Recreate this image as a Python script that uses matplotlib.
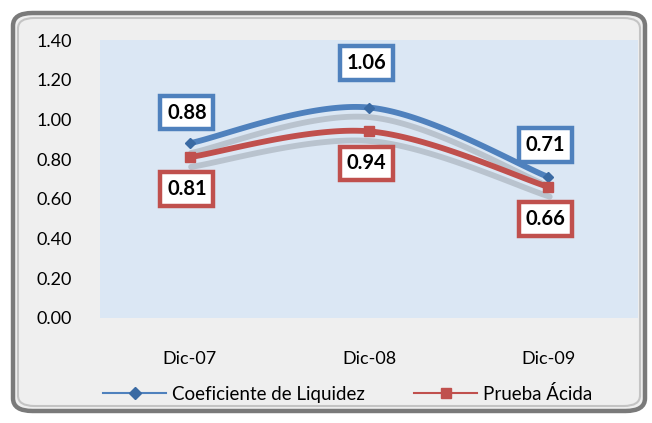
import matplotlib.pyplot as plt
import matplotlib.patheffects as pe
from matplotlib.patches import FancyBboxPatch, Rectangle
import numpy as np

periods = ['Dic-07', 'Dic-08', 'Dic-09']
liquidez = [0.88, 1.06, 0.71]
acida = [0.81, 0.94, 0.66]
yticks = [0.0, 0.2, 0.4, 0.6, 0.8, 1.0, 1.2, 1.4]

blue = '#4f81bd'
red = '#c0504d'

plt.rcParams['font.family'] = ['Lato', 'DejaVu Sans']


def smooth(x, y, n=60):
    # Catmull-Rom curve through the points (like Excel's smoothed line)
    x = np.asarray(x, float)
    y = np.asarray(y, float)
    px = np.concatenate([[x[0]], x, [x[-1]]])
    py = np.concatenate([[y[0]], y, [y[-1]]])
    xs, ys = [], []
    for i in range(1, len(px) - 2):
        t = np.linspace(0, 1, n)
        p0, p1, p2, p3 = [np.array([px[j], py[j]]) for j in range(i - 1, i + 3)]
        c1 = p1 + (p2 - p0) / 6
        c2 = p2 - (p3 - p1) / 6
        b = ((1 - t) ** 3)[:, None] * p1 + (3 * (1 - t) ** 2 * t)[:, None] * c1 \
            + (3 * (1 - t) * t ** 2)[:, None] * c2 + (t ** 3)[:, None] * p2
        xs.append(b[:, 0])
        ys.append(b[:, 1])
    return np.concatenate(xs), np.concatenate(ys)


fig = plt.figure(figsize=(6.52, 4.23), dpi=100)
fig.patch.set_facecolor('white')

# outer rounded frame
frame = FancyBboxPatch((13 / 652, 12 / 423), 632 / 652, 398 / 423,
                       boxstyle='round,pad=0,rounding_size=0.03',
                       transform=fig.transFigure, facecolor='#efefef',
                       edgecolor='#7a7a7a', linewidth=3.2, zorder=-2)
fig.patches.append(frame)
inner = FancyBboxPatch((18 / 652, 17 / 423), 622 / 652, 388 / 423,
                       boxstyle='round,pad=0,rounding_size=0.025',
                       transform=fig.transFigure, facecolor='none',
                       edgecolor='#c4c4c4', linewidth=1.5, zorder=-1)
fig.patches.append(inner)

ax = fig.add_axes([100 / 652, 1 - 318 / 423, 538 / 652, 278 / 423])
ax.set_facecolor('none')
ax.add_patch(Rectangle((0, -0.01), 1, 1.02, transform=ax.transAxes, facecolor='#dbe7f4',
                       edgecolor='none', zorder=0,
                       path_effects=[pe.SimplePatchShadow(offset=(3, -3), alpha=0.25),
                                     pe.Normal()]))

x = np.arange(len(periods))
shadow = [pe.SimpleLineShadow(offset=(1, -7), alpha=0.18, shadow_color='#222222'),
          pe.Normal()]

sx, sy = smooth(x, liquidez)
ax.plot(sx, sy, color=blue, lw=4.2, zorder=3, path_effects=shadow,
        solid_capstyle='round')
ax.plot(x, liquidez, ls='none', marker='D', ms=5, color='#3a6aa3', zorder=4)
sx, sy = smooth(x, acida)
ax.plot(sx, sy, color=red, lw=4.2, zorder=3, path_effects=shadow,
        solid_capstyle='round')
ax.plot(x, acida, ls='none', marker='s', ms=7, color=red, zorder=4)

# legend proxies
ax.plot([], [], color=blue, lw=1.5, marker='D', ms=6, mfc='#3a6aa3', mec='#3a6aa3',
        label='Coeficiente de Liquidez')
ax.plot([], [], color=red, lw=1.5, marker='s', ms=7, label='Prueba Ácida')

up_off = [22, 32, 23]
for i, v in enumerate(liquidez):
    ax.annotate(f'{v:.2f}', (x[i], v), xytext=(-2, up_off[i]), textcoords='offset points',
                ha='center', va='center', fontsize=14.5, fontweight='bold', zorder=6,
                bbox=dict(boxstyle='square,pad=0.33', fc='white', ec=blue, lw=3.2))
for i, v in enumerate(acida):
    ax.annotate(f'{v:.2f}', (x[i], v), xytext=(-2, -23), textcoords='offset points',
                ha='center', va='center', fontsize=14.5, fontweight='bold', zorder=6,
                bbox=dict(boxstyle='square,pad=0.33', fc='white', ec=red, lw=3.2))

ax.set_xlim(-0.5, 2.5)
ax.set_ylim(0, 1.4)
ax.set_yticks(yticks)
ax.set_yticklabels([f'{t:.2f}' for t in yticks], fontsize=13)
ax.set_xticks(x)
ax.set_xticklabels(periods, fontsize=13)
ax.tick_params(axis='y', length=0, pad=20)
ax.tick_params(axis='x', length=0, pad=24)
for s in ax.spines.values():
    s.set_visible(False)

ax.legend(loc='upper center', bbox_to_anchor=(0.46, -0.18), ncol=2, frameon=False,
          fontsize=13.5, handlelength=3.4, columnspacing=2.6, handletextpad=0.3)

fig.savefig('out.png', dpi=100)
